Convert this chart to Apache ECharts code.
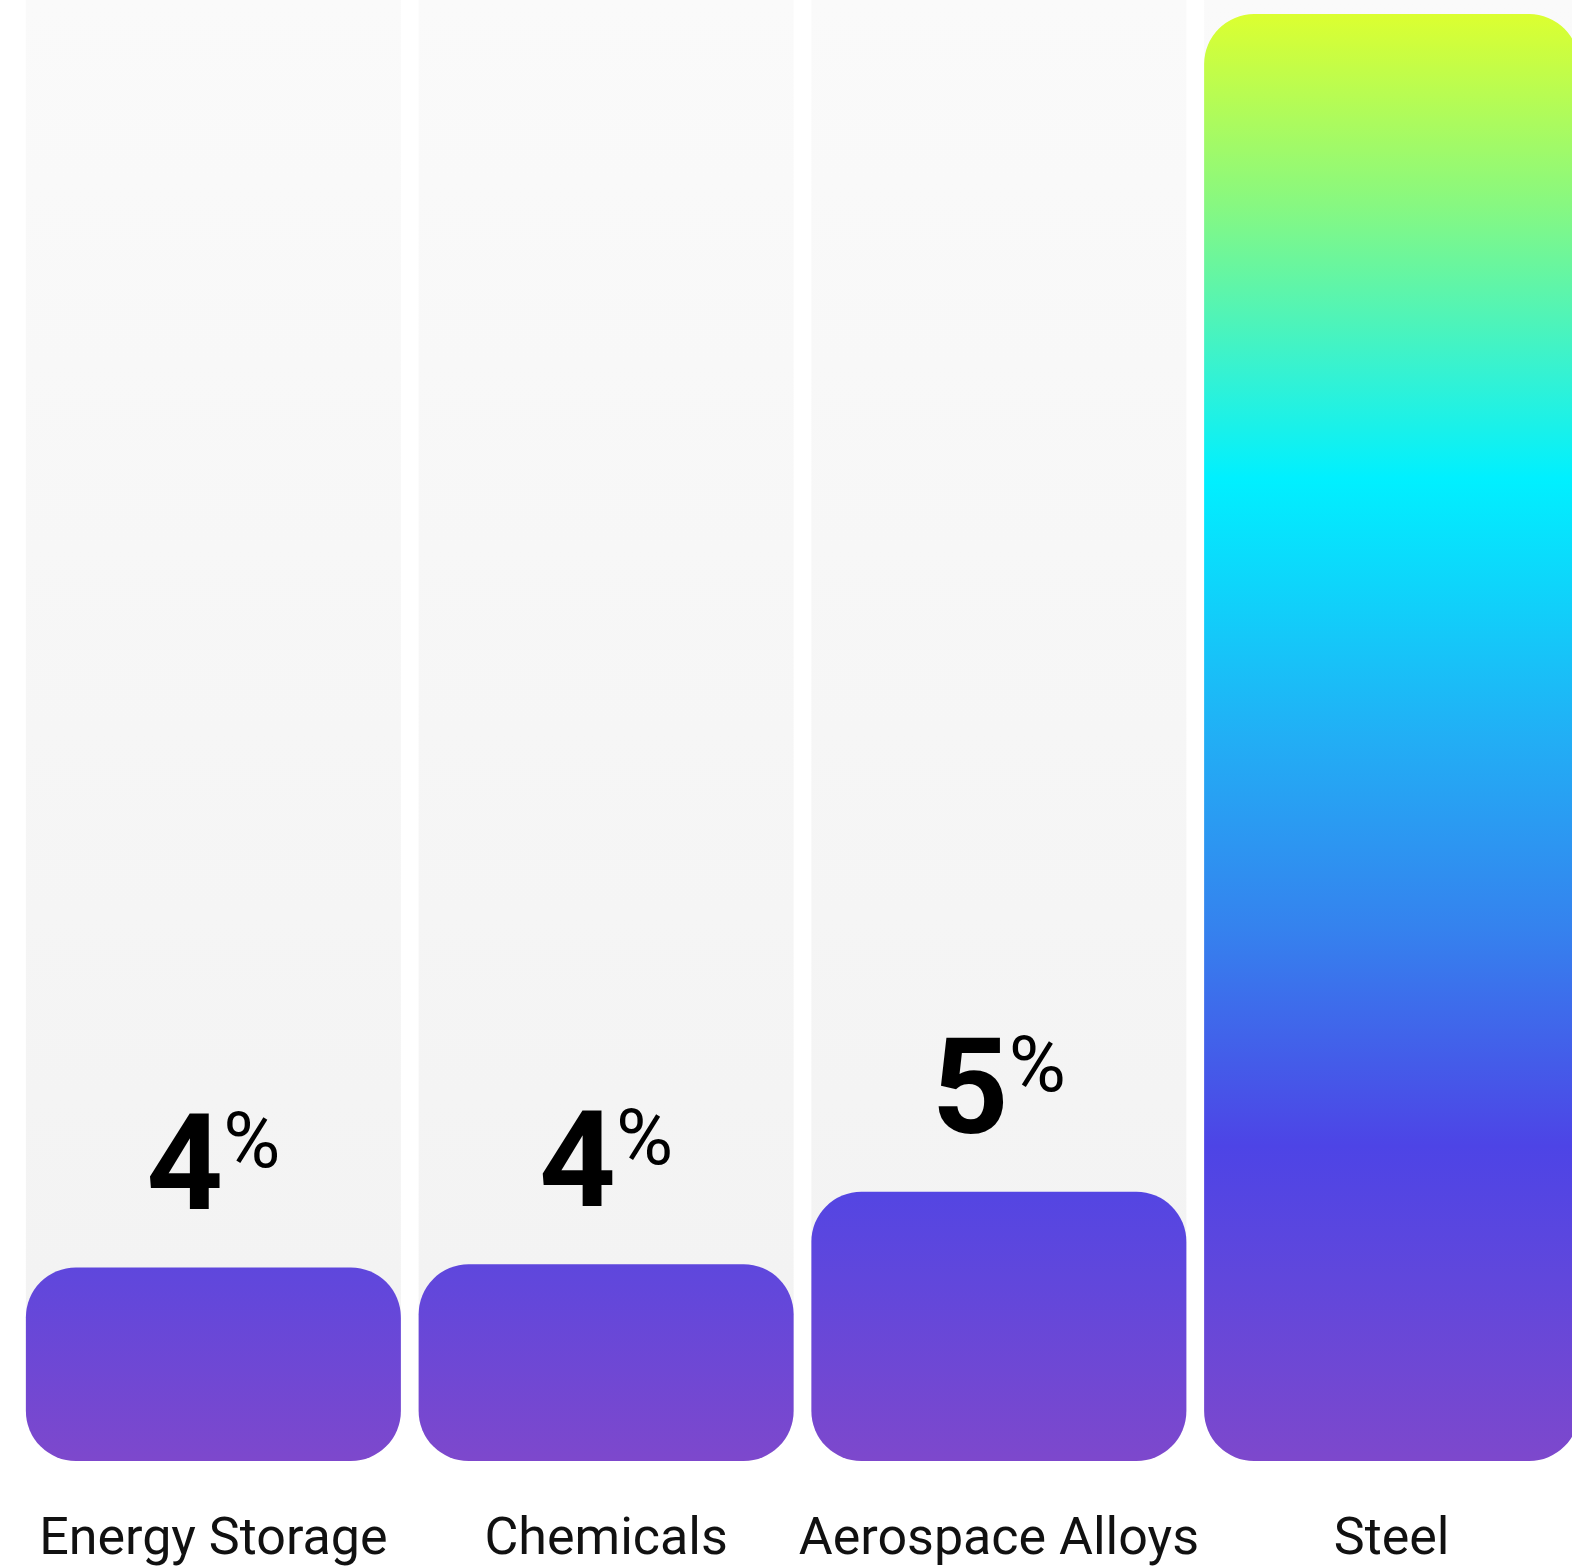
<!DOCTYPE html>
<html>
<head>
<meta charset="utf-8">
<script src="https://cdn.jsdelivr.net/npm/echarts@6/dist/echarts.min.js"></script>
<style>
  html, body { margin: 0; padding: 0; background: #ffffff; overflow: hidden; width: 1572px; height: 1567px; }
  #chart { width: 1588px; height: 1567px; }
</style>
</head>
<body>
<div id="chart"></div>
<script>
const categories = ['Energy Storage', 'Chemicals', 'Aerospace Alloys', 'Steel'];
const values = [3.71, 3.77, 5.16, 27.73];
const axisMax = 28;

const chart = echarts.init(document.getElementById('chart'), null, { renderer: 'canvas' });

const barGradient = new echarts.graphic.LinearGradient(0, 14, 0, 1465, [
  { offset: 0.00, color: '#dcff30' },
  { offset: 0.13, color: '#88f880' },
  { offset: 0.25, color: '#33f2d4' },
  { offset: 0.32, color: '#00f0ff' },
  { offset: 0.50, color: '#22aef5' },
  { offset: 0.63, color: '#3582ee' },
  { offset: 0.78, color: '#4d44e6' },
  { offset: 0.87, color: '#6047dc' },
  { offset: 1.00, color: '#7e48cc' }
], true);

const bgGradient = new echarts.graphic.LinearGradient(0, 0, 0, 1, [
  { offset: 0, color: '#fafafa' },
  { offset: 1, color: '#f2f2f2' }
]);

chart.setOption({
  backgroundColor: '#ffffff',
  animation: false,
  grid: { left: 17, right: 0, top: 0, bottom: 102, containLabel: false },
  xAxis: {
    type: 'category',
    data: categories,
    axisLine: { show: false },
    axisTick: { show: false },
    axisLabel: {
      interval: 0,
      margin: 54,
      fontFamily: 'Roboto',
      fontSize: 52,
      color: '#111111'
    }
  },
  yAxis: {
    type: 'value',
    min: 0,
    max: axisMax,
    show: false,
    splitLine: { show: false }
  },
  series: [{
    type: 'bar',
    data: values,
    barWidth: 375,
    showBackground: true,
    backgroundStyle: { color: bgGradient, borderRadius: [0, 0, 50, 50] },
    itemStyle: { color: barGradient, borderRadius: 50 },
    label: {
      show: true,
      position: 'top',
      distance: 25,
      formatter: function (p) { return '{n|' + Math.round(p.value) + '}{p|%}'; },
      rich: {
        n: { fontFamily: 'Roboto', fontWeight: 'bold', fontSize: 134, color: '#000000', lineHeight: 134, verticalAlign: 'bottom' },
        p: { fontFamily: 'Roboto', fontWeight: 'normal', fontSize: 78, color: '#000000', lineHeight: 78, verticalAlign: 'top', padding: [0, 0, 0, 0] }
      }
    }
  }]
});
</script>
</body>
</html>
